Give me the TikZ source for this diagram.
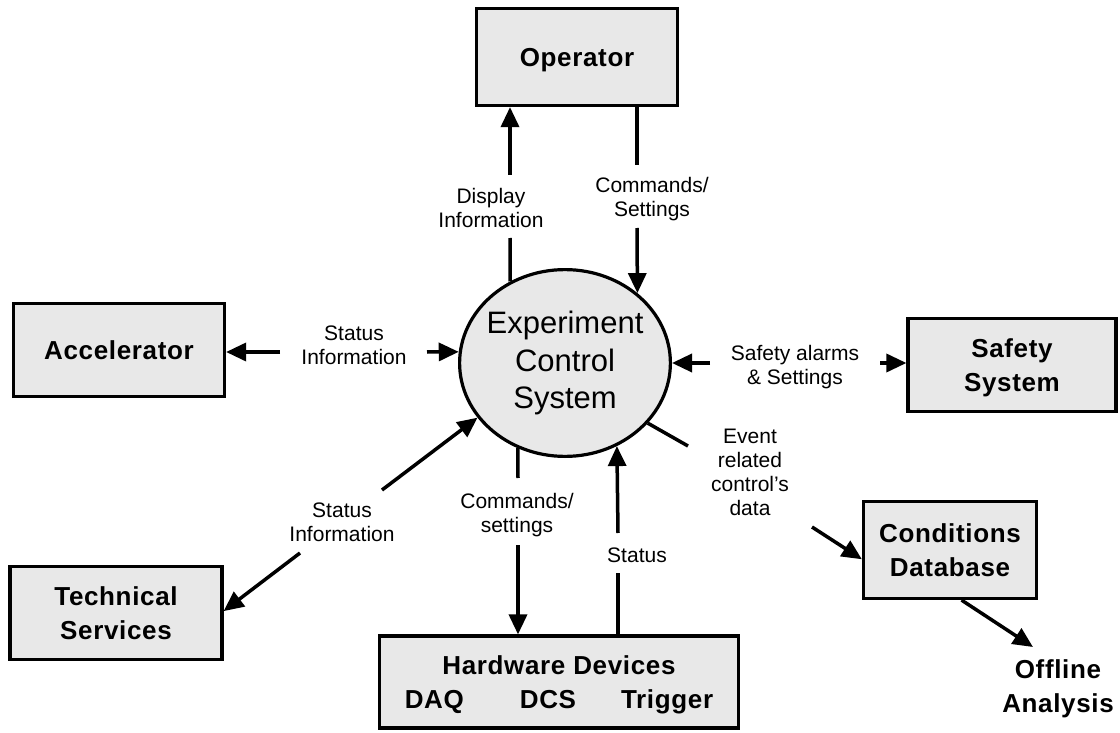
\documentclass[tikz,border=0pt]{standalone}
\usepackage{fontspec}
\setmainfont{Liberation Sans}
\newfontfamily\boldfam[LetterSpace=2.5]{Liberation Sans}
\usetikzlibrary{arrows.meta,shapes.geometric}
\definecolor{boxgray}{RGB}{232,232,232}
% a line of text that keeps its height but has no depth
\newcommand\flatline[1]{\raisebox{0pt}[\height][0pt]{#1}}
\tikzset{
  entity/.style={draw, line width=3.2pt, fill=boxgray, inner sep=0pt, align=center,
    font=\boldfam\bfseries\fontsize{26}{34}\selectfont},
  flow/.style={line width=3.5pt},
  flowarrow/.style={flow, -{Triangle[length=20pt,width=18pt]}},
  lbl/.style={align=center, inner sep=0pt, font=\fontsize{21}{24}\selectfont}
}
\begin{document}
\begin{tikzpicture}[x=1pt,y=-1pt]
\useasboundingbox (0,0) rectangle (1120,733);

% central system
\node[ellipse, draw, line width=3.2pt, fill=boxgray, minimum width=210.8pt,
      minimum height=186.8pt, inner xsep=-12pt, inner ysep=0pt, align=center,
      font=\fontsize{31}{37.5}\selectfont] (ecs) at (565,363) {Experiment\\Control\\System};

% external entities
\node[entity, minimum width=201pt, minimum height=97pt] (operator) at (577,57) {\flatline{Operator}};
\node[entity, minimum width=211pt, minimum height=93pt] (accelerator) at (119,350) {Accelerator};
\node[entity, minimum width=208pt, minimum height=93pt] (safety) at (1012,365) {Safety\\\flatline{System}};
\node[entity, minimum width=212pt, minimum height=93pt] (technical) at (116,613) {Technical\\Services};
\node[entity, minimum width=359pt, minimum height=92pt] (hardware) at (559,682)
  {Hardware Devices\\\flatline{DAQ\hspace{56pt}DCS\hspace{45pt}Trigger}};
\node[entity, minimum width=173pt, minimum height=97pt] (conditions) at (950,550) {Conditions\\Database};
\node[align=center, inner sep=0pt, font=\boldfam\bfseries\fontsize{26}{34}\selectfont]
  (offline) at (1058,686) {Offline\\\flatline{Analysis}};

% flow labels
\node[lbl] (lDisplay) at (491,208) {Display\\Information};
\node[lbl] (lCmdOp) at (652,199) {Commands/\\Settings};
\node[lbl] (lAcc) at (354,345) {Status\\Information};
\node[lbl] (lSafe) at (795,367) {Safety alarms\\\& Settings};
\node[lbl] (lTech) at (342,522) {Status\\Information};
\node[lbl] (lCmdHw) at (517,515) {Commands/\\settings};
\node[lbl] (lStatus) at (637,555) {Status};
\node[lbl] (lEvent) at (750,472) {Event\\related\\control’s\\data};

% ends of the broken flow lines
\coordinate (dispLo) at (510,238);  \coordinate (dispHi) at (510,175);
\coordinate (cmdHi) at (637,165);   \coordinate (cmdLo) at (637,228);
\coordinate (accL) at (280,352);    \coordinate (accR) at (427,352);
\coordinate (safL) at (710,363);    \coordinate (safR) at (880,363);
\coordinate (tecHi) at (382,490);   \coordinate (tecLo) at (300,553);
\coordinate (hwHi) at (518,478);    \coordinate (hwLo) at (518,545);
\coordinate (stLo) at (618,573);    \coordinate (stHi) at (618,533);
\coordinate (evHi) at (688,446);    \coordinate (evLo) at (812,527);
\coordinate (offTip) at (1033,647);

% flows
\draw[flow] (ecs.124) -- (dispLo);
\draw[flowarrow] (dispHi) -- (dispHi |- operator.south);
\draw[flow] (cmdHi |- operator.south) -- (cmdHi);
\draw[flowarrow] (cmdLo) -- (ecs.44.3);
\draw[flowarrow] (accL) -- (accL -| accelerator.east);
\draw[flowarrow] (accR) -- (ecs.174.1);
\draw[flowarrow] (safL) -- (ecs.0);
\draw[flowarrow] (safR) -- (safR -| safety.west);
\draw[flowarrow] (tecHi) -- (ecs.212.3);
\draw[flowarrow] (tecLo) -- (technical.1);
\draw[flow] (ecs.241.1) -- (hwHi);
\draw[flowarrow] (hwLo) -- (hwLo |- hardware.north);
\draw[flow] (stLo |- hardware.north) -- (stLo);
\draw[flowarrow] (stHi) -- (ecs.302.7);
\draw[flow] (ecs.324.6) -- (evHi);
\draw[flowarrow] (evLo) -- (conditions.186.5);
\draw[flowarrow] (conditions.283.5) -- (offTip);
\end{tikzpicture}
\end{document}
